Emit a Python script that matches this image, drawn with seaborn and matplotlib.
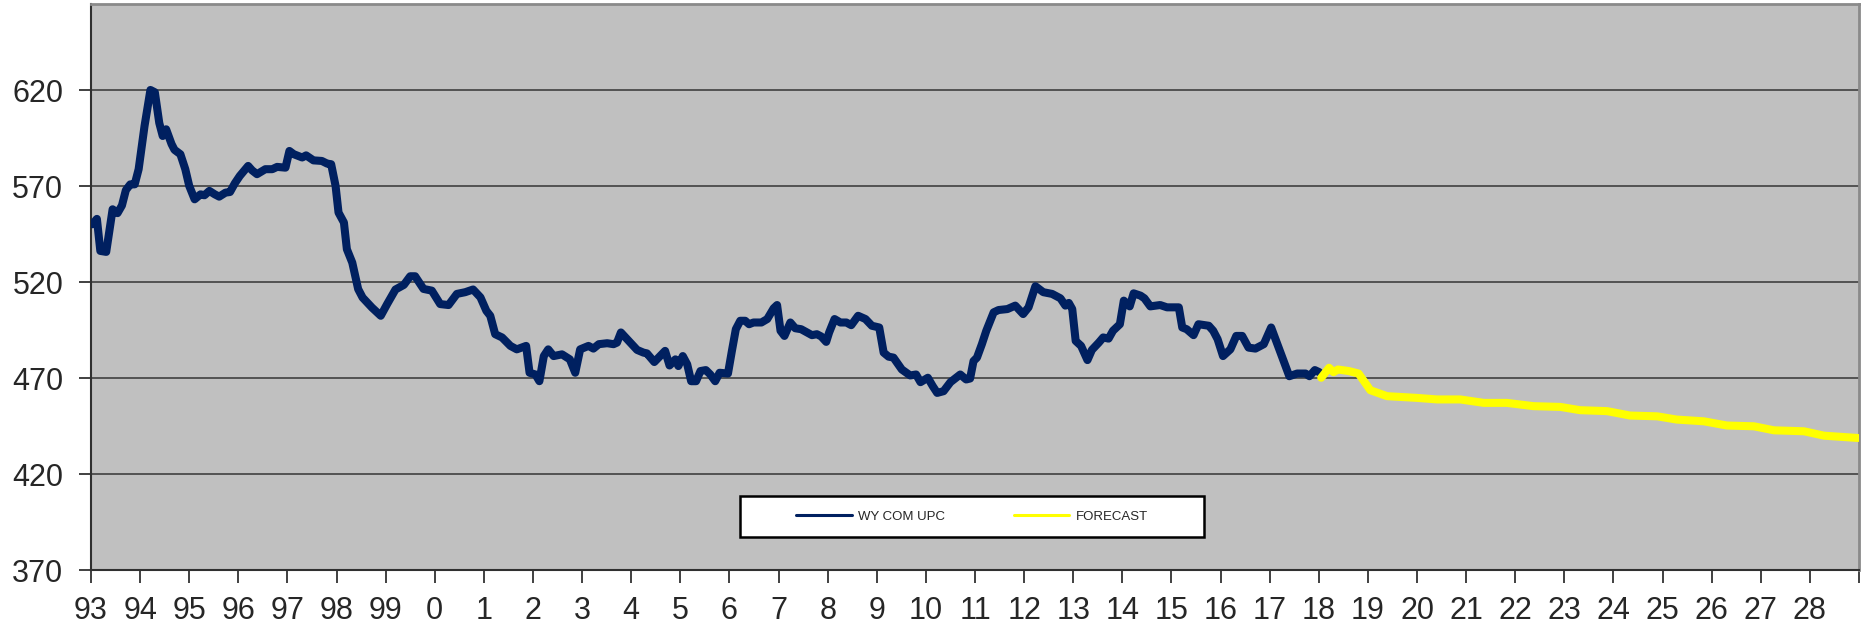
import numpy as np
import pandas as pd
import matplotlib
matplotlib.use("Agg")
import matplotlib.pyplot as plt
import seaborn as sns
from matplotlib.lines import Line2D
from matplotlib.patches import Rectangle

# history series (decimal year, value)
hist_year = [1993.03, 1993.12, 1993.19, 1993.31, 1993.44, 1993.54, 1993.63, 1993.71, 1993.80, 1993.89,
             1993.97, 1994.09, 1994.21, 1994.30, 1994.39, 1994.46, 1994.53, 1994.64, 1994.70, 1994.82,
             1994.92, 1995.00, 1995.11, 1995.23, 1995.31, 1995.41, 1995.52, 1995.61, 1995.74, 1995.83,
             1995.93, 1996.03, 1996.20, 1996.28, 1996.38, 1996.55, 1996.69, 1996.79, 1996.96, 1997.04,
             1997.13, 1997.30, 1997.38, 1997.53, 1997.70, 1997.81, 1997.89, 1997.98, 1998.04, 1998.15,
             1998.21, 1998.32, 1998.44, 1998.53, 1998.72, 1998.90, 1999.03, 1999.20, 1999.37, 1999.50,
             1999.60, 1999.77, 1999.94, 2000.11, 2000.28, 2000.45, 2000.62, 2000.78, 2000.93, 2001.05,
             2001.13, 2001.23, 2001.37, 2001.54, 2001.67, 2001.86, 2001.93, 2002.05, 2002.13, 2002.22,
             2002.31, 2002.42, 2002.59, 2002.75, 2002.86, 2002.96, 2003.13, 2003.23, 2003.34, 2003.51,
             2003.64, 2003.71, 2003.79, 2003.95, 2004.12, 2004.25, 2004.32, 2004.47, 2004.69, 2004.78,
             2004.90, 2004.96, 2005.05, 2005.14, 2005.22, 2005.32, 2005.41, 2005.52, 2005.61, 2005.71,
             2005.80, 2005.97, 2006.05, 2006.13, 2006.22, 2006.32, 2006.40, 2006.49, 2006.65, 2006.77,
             2006.90, 2006.97, 2007.04, 2007.12, 2007.24, 2007.34, 2007.46, 2007.58, 2007.68, 2007.78,
             2007.87, 2007.97, 2008.03, 2008.14, 2008.26, 2008.38, 2008.48, 2008.62, 2008.77, 2008.90,
             2009.05, 2009.14, 2009.24, 2009.34, 2009.51, 2009.68, 2009.80, 2009.89, 2010.04, 2010.14,
             2010.23, 2010.36, 2010.50, 2010.70, 2010.82, 2010.90, 2010.97, 2011.04, 2011.14, 2011.23,
             2011.38, 2011.48, 2011.66, 2011.82, 2011.98, 2012.09, 2012.23, 2012.39, 2012.57, 2012.74,
             2012.84, 2012.91, 2012.98, 2013.05, 2013.16, 2013.29, 2013.38, 2013.52, 2013.61, 2013.72,
             2013.81, 2013.95, 2014.03, 2014.15, 2014.23, 2014.37, 2014.45, 2014.57, 2014.77, 2014.91,
             2015.15, 2015.22, 2015.31, 2015.45, 2015.55, 2015.76, 2015.85, 2015.94, 2016.05, 2016.20,
             2016.32, 2016.44, 2016.57, 2016.71, 2016.88, 2017.03, 2017.22, 2017.40, 2017.56, 2017.73,
             2017.81, 2017.92, 2018.01]
hist_val = [550.2, 553.0, 536.3, 535.8, 558.0, 556.0, 560.0, 568.0, 571.0, 571.0,
            578.9, 601.4, 620.2, 619.0, 603.0, 596.2, 599.7, 592.0, 589.0, 586.7,
            578.9, 570.2, 563.2, 565.8, 565.3, 567.6, 565.8, 564.6, 566.7, 567.0,
            571.6, 575.4, 580.6, 578.3, 576.3, 578.9, 578.9, 580.1, 579.7, 588.4,
            586.7, 585.0, 586.1, 583.5, 583.2, 581.8, 581.5, 570.2, 556.3, 551.1,
            537.2, 530.2, 516.4, 512.0, 506.8, 502.5, 508.6, 516.2, 518.6, 523.1,
            523.1, 516.5, 515.6, 508.6, 508.1, 513.9, 514.8, 516.2, 512.1, 505.1,
            502.5, 492.9, 491.2, 486.8, 485.0, 486.8, 472.8, 471.9, 468.4, 481.5,
            485.0, 481.5, 482.4, 479.8, 472.8, 485.0, 486.8, 485.4, 487.7, 488.2,
            487.7, 488.5, 493.8, 489.4, 484.7, 483.3, 482.9, 478.4, 484.2, 476.6,
            479.8, 476.3, 481.5, 477.2, 468.4, 468.4, 473.7, 474.2, 471.9, 468.4,
            472.8, 472.4, 484.2, 495.5, 499.9, 499.9, 498.1, 499.0, 499.0, 500.8,
            506.4, 508.1, 494.7, 492.0, 499.0, 496.0, 495.5, 493.8, 492.4, 492.9,
            491.7, 488.9, 493.8, 500.8, 499.0, 499.0, 497.6, 502.5, 500.8, 497.3,
            496.4, 483.3, 481.2, 480.7, 474.5, 471.4, 471.9, 467.9, 470.2, 465.8,
            462.3, 463.2, 467.9, 471.9, 469.3, 469.8, 478.9, 480.7, 487.7, 494.7,
            504.3, 505.5, 506.0, 507.8, 503.4, 506.9, 517.9, 514.8, 513.9, 511.6,
            507.8, 509.2, 506.0, 489.4, 486.8, 479.4, 484.7, 488.5, 491.2, 490.6,
            494.7, 498.1, 510.4, 507.4, 514.2, 513.0, 511.6, 507.4, 508.1, 506.9,
            506.9, 496.4, 495.5, 492.4, 498.1, 497.3, 494.7, 490.3, 481.5, 485.0,
            492.0, 492.0, 485.9, 485.4, 487.7, 496.4, 483.3, 471.0, 472.4, 472.4,
            471.0, 474.2, 473.1]

# forecast series
fc_year = [2018.05, 2018.21, 2018.30, 2018.39, 2018.61, 2018.81, 2019.05, 2019.39, 2020.00, 2020.41,
           2020.88, 2021.36, 2021.83, 2022.37, 2022.92, 2023.32, 2023.87, 2024.34, 2024.89, 2025.29,
           2025.84, 2026.31, 2026.86, 2027.27, 2027.88, 2028.29, 2028.98]
fc_val = [470.2, 475.4, 473.1, 474.5, 473.7, 472.4, 463.7, 460.6, 459.7, 458.9,
          458.9, 457.1, 457.1, 455.4, 455.0, 453.3, 452.8, 450.5, 450.1, 448.4,
          447.5, 445.3, 444.9, 442.8, 442.3, 440.0, 438.8]

year_ticks = list(range(1993, 2030))
y_ticks = [370, 420, 470, 520, 570, 620]

navy = "#002060"
yellow = "#FFFF00"

sns.set_style("white")
plt.rcParams['font.family'] = ['Liberation Sans', 'DejaVu Sans']

hist = pd.DataFrame({"year": hist_year, "value": hist_val})
fc = pd.DataFrame({"year": fc_year, "value": fc_val})

fig = plt.figure(figsize=(18.68, 6.28), dpi=100)
ax = fig.add_axes([91 / 1868, 58 / 628, 1768 / 1868, 566 / 628])
ax.set_facecolor("#C0C0C0")

sns.lineplot(data=hist, x="year", y="value", ax=ax, color=navy, lw=5.8,
             estimator=None, sort=False, solid_joinstyle="round", solid_capstyle="round", zorder=3)
sns.lineplot(data=fc, x="year", y="value", ax=ax, color=yellow, lw=5.8,
             estimator=None, sort=False, solid_joinstyle="round", solid_capstyle="round", zorder=3)

ax.set_xlim(1993, 2029)
ax.set_ylim(370, 665)
ax.set_xticks(year_ticks)
ax.set_xticklabels([str(y % 100) if y < 2029 else "" for y in year_ticks])
ax.set_yticks(y_ticks)
ax.set_yticklabels([str(v) for v in y_ticks])
ax.set_xlabel("")
ax.set_ylabel("")

ax.grid(axis="y", color="#404040", lw=1.2, zorder=1)
ax.grid(axis="x", visible=False)
ax.set_axisbelow(True)

ax.tick_params(axis="x", direction="out", length=9, width=1.2, color="#202020",
               labelsize=22, pad=10, bottom=True)
ax.tick_params(axis="y", direction="out", length=9, width=1.2, color="#202020",
               labelsize=22, pad=11, left=True)

for side in ["left", "bottom"]:
    ax.spines[side].set_color("#303030")
    ax.spines[side].set_linewidth(1.5)
for side in ["top", "right"]:
    ax.spines[side].set_color("#8a8a8a")
    ax.spines[side].set_linewidth(2)

# legend box
ax.add_patch(Rectangle((0.367, 0.0583), 0.2624, 0.0724, transform=ax.transAxes,
                       facecolor="white", edgecolor="black", lw=1.8, zorder=5))
handles = [Line2D([0], [0], color=navy, lw=2.2), Line2D([0], [0], color=yellow, lw=2.2)]
leg = ax.legend(handles, ["WY COM UPC", "FORECAST"], ncol=2, frameon=False,
                loc="center", bbox_to_anchor=(0.4983, 0.0945), fontsize=9.5,
                handlelength=4.2, handletextpad=0.5, columnspacing=5.2)
leg.set_zorder(6)

fig.savefig("out.png", dpi=100, facecolor="white")
